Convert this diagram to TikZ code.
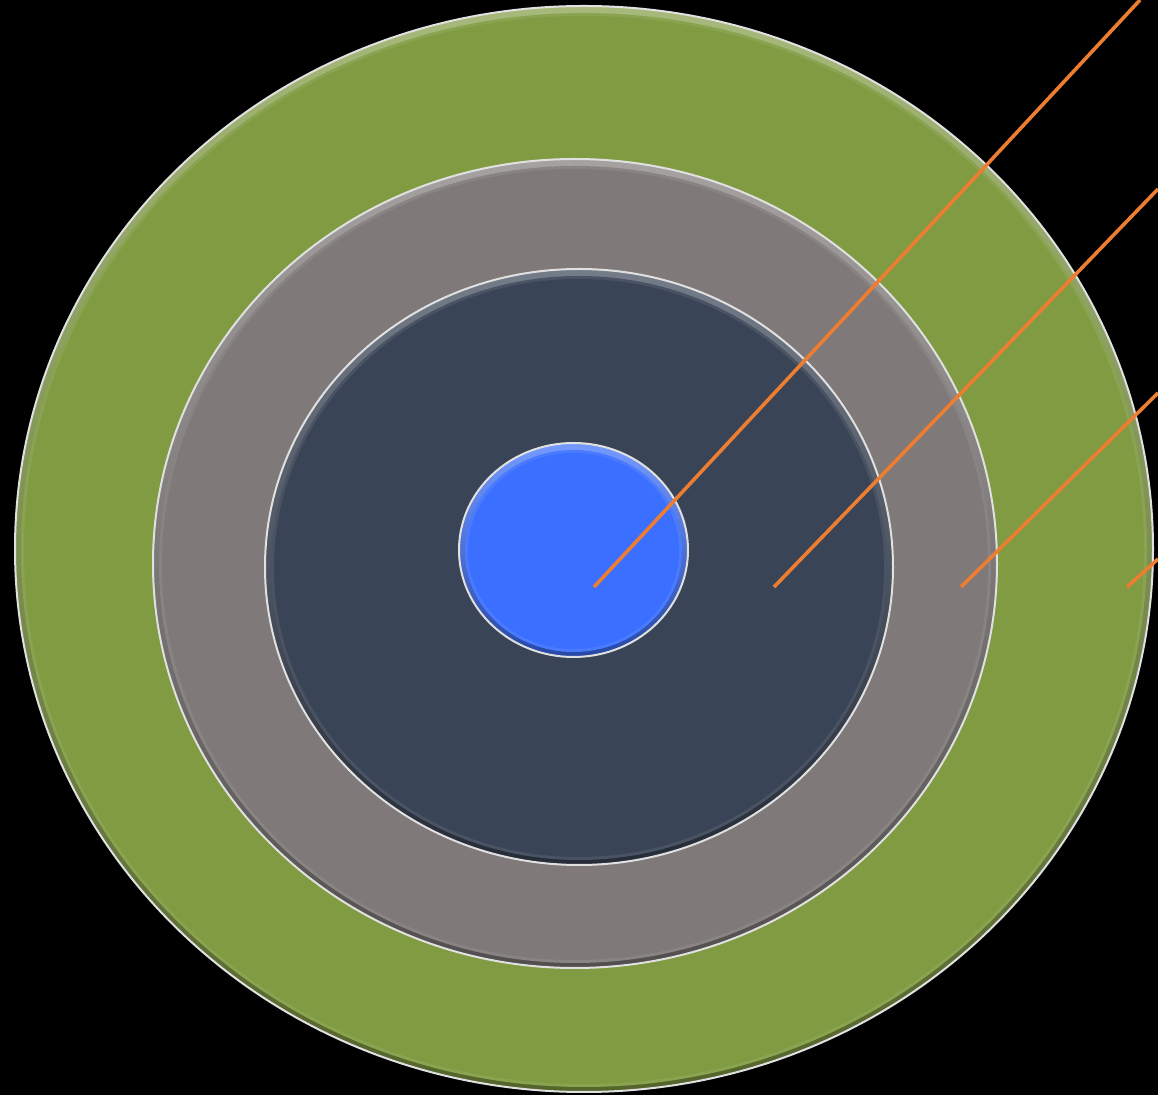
\documentclass[tikz,border=0pt]{standalone}
\definecolor{ringgreen}{RGB}{128,155,66}
\definecolor{ringgray}{RGB}{127,121,121}
\definecolor{ringnavy}{RGB}{57,68,86}
\definecolor{coreblue}{RGB}{58,111,255}
\definecolor{leader}{RGB}{237,125,49}
\tikzset{
  rim/.style={draw=white!88!black, line width=1pt},
  leaderline/.style={draw=leader, line width=1.8pt},
}
\newcommand{\bevelring}[5]{%
  % #1 cx, #2 cy, #3 rx(px), #4 ry(px), #5 colour
  \shade[top color=#5!70!white, bottom color=#5!65!black]
    (#1,#2) ellipse [x radius=#3*0.5pt, y radius=#4*0.5pt];
  \fill[#5!92!white] (#1,#2+1) ellipse [x radius=#3*0.5pt-3pt, y radius=#4*0.5pt-3pt];
  \fill[#5] (#1,#2+1) ellipse [x radius=#3*0.5pt-4.5pt, y radius=#4*0.5pt-4.5pt];
  \draw[rim] (#1,#2) ellipse [x radius=#3*0.5pt, y radius=#4*0.5pt];
}
\begin{document}
\begin{tikzpicture}[x=0.5pt,y=-0.5pt]
  \fill[black] (0,0) rectangle (1158,1095);
  \useasboundingbox (0,0) rectangle (1158,1095);
  \begin{scope}
    \clip (0,0) rectangle (1158,1095);
    % rings
    \bevelring{584}{549}{569}{543}{ringgreen}
    \bevelring{575}{563.5}{422}{404.5}{ringgray}
    \bevelring{579}{567}{314}{298}{ringnavy}
    \bevelring{573.5}{550}{114.5}{107}{coreblue}
    % leader points
    \coordinate (s1) at (594,587);
    \coordinate (e1) at (1140,0);
    \coordinate (s2) at (774,587);
    \coordinate (e2) at (1158,189);
    \coordinate (s3) at (961,587);
    \coordinate (e3) at (1158,393);
    \coordinate (s4) at (1127,587);
    \coordinate (e4) at (1158,559);
    \draw[leaderline] (s1) -- (e1);
    \draw[leaderline] (s2) -- (e2);
    \draw[leaderline] (s3) -- (e3);
    \draw[leaderline] (s4) -- (e4);
  \end{scope}
\end{tikzpicture}
\end{document}
